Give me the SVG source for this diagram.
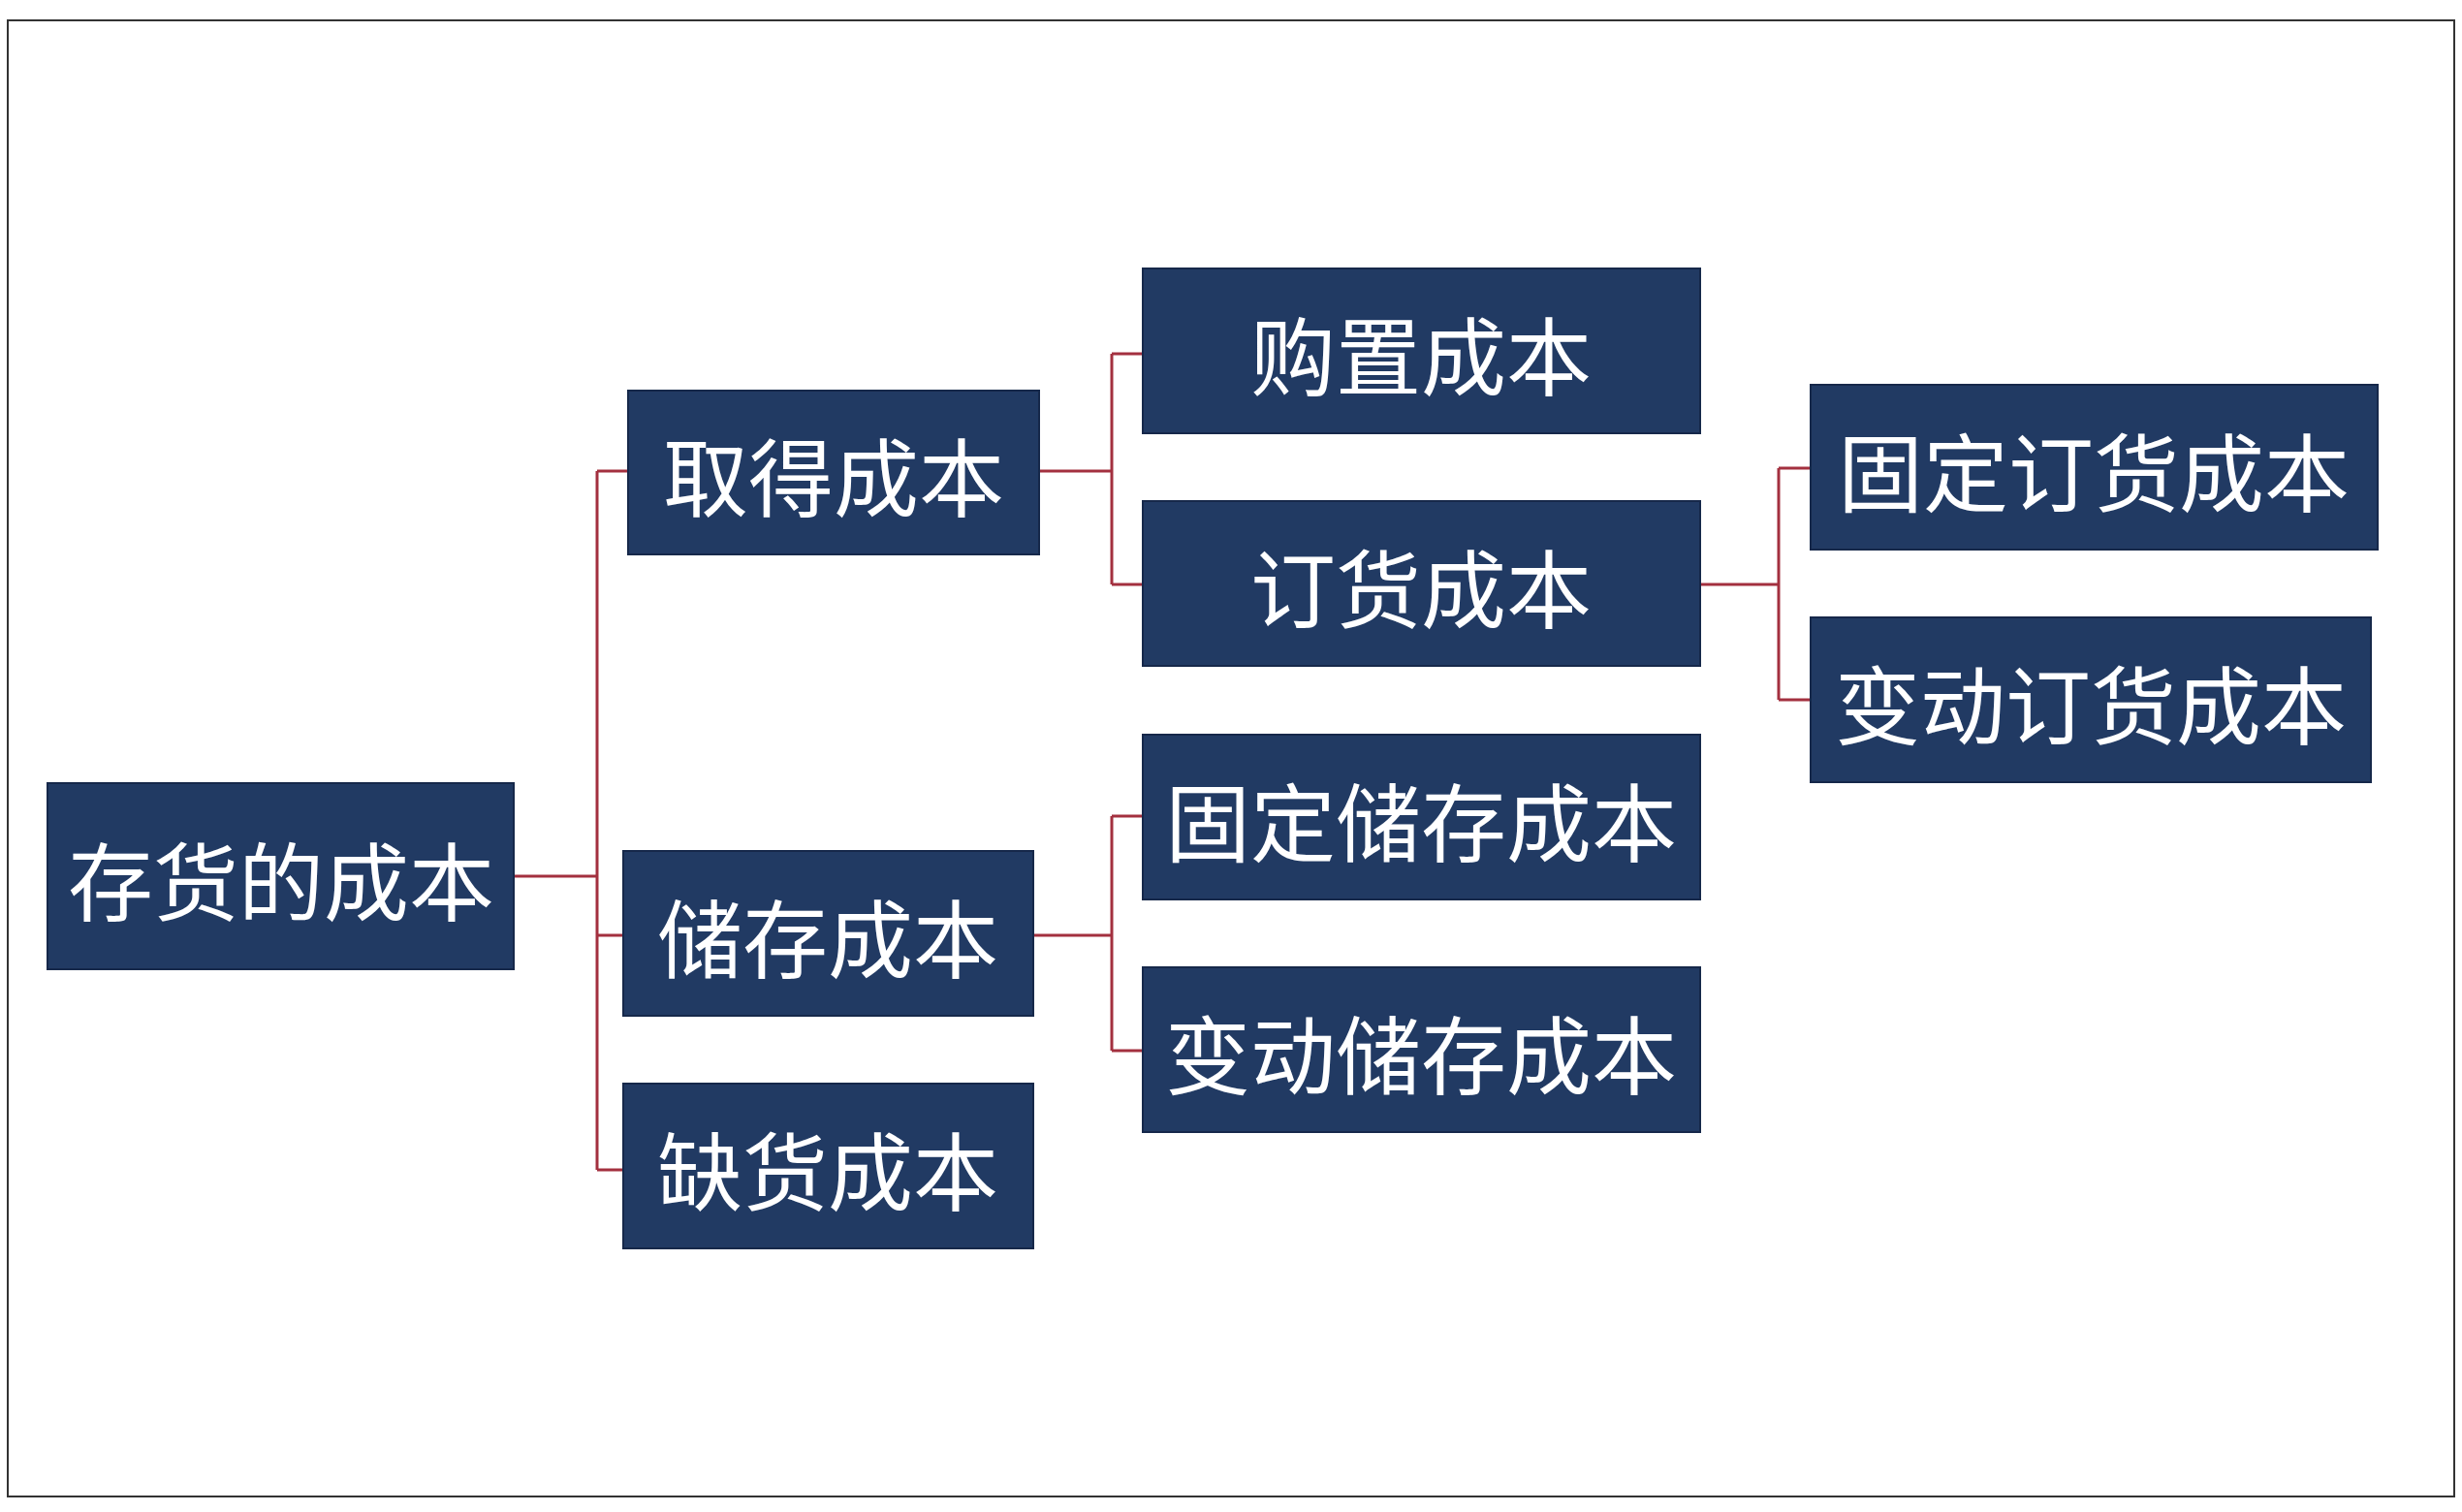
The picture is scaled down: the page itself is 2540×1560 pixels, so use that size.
<svg xmlns="http://www.w3.org/2000/svg" width="2540" height="1560" viewBox="0 0 2540 1560">
<style>
.n rect{fill:#213a63;stroke:#16284a;stroke-width:2}
.n text{fill:#fff;font-family:"Noto Sans CJK SC","Noto Sans",sans-serif;font-size:88px;text-anchor:middle;dominant-baseline:central}
#c path{fill:none;stroke:#a3303f;stroke-width:3}
</style>
<rect x="0" y="0" width="2540" height="1560" fill="#fff"/>
<rect x="8" y="21" width="2524" height="1523" fill="none" stroke="#333" stroke-width="2"/>
<g id="c">
<path d="M530 904H616M616 486V1207M616 486H648M616 965H643M616 1207H643"/>
<path d="M1072 486H1147M1147 365V603M1147 365H1179M1147 603H1179"/>
<path d="M1066 965H1147M1147 842V1084M1147 842H1179M1147 1084H1179"/>
<path d="M1754 603H1835M1835 483V722M1835 483H1868M1835 722H1868"/>
</g>
<g id="root" class="n"><rect x="49" y="808" width="481" height="192"/><text x="290" y="904">存货的成本</text></g>
<g id="qude" class="n"><rect x="648" y="403" width="424" height="169"/><text x="860" y="487">取得成本</text></g>
<g id="chucun" class="n"><rect x="643" y="878" width="423" height="170"/><text x="854" y="963">储存成本</text></g>
<g id="quehuo" class="n"><rect x="643" y="1118" width="423" height="170"/><text x="854" y="1203">缺货成本</text></g>
<g id="gouzhi" class="n"><rect x="1179" y="277" width="575" height="170"/><text x="1466" y="362">购置成本</text></g>
<g id="dinghuo" class="n"><rect x="1179" y="517" width="575" height="170"/><text x="1466" y="602">订货成本</text></g>
<g id="gdcc" class="n"><rect x="1179" y="758" width="575" height="170"/><text x="1466" y="843">固定储存成本</text></g>
<g id="bdcc" class="n"><rect x="1179" y="998" width="575" height="170"/><text x="1466" y="1083">变动储存成本</text></g>
<g id="gddh" class="n"><rect x="1868" y="397" width="585" height="170"/><text x="2160" y="482">固定订货成本</text></g>
<g id="bddh" class="n"><rect x="1868" y="637" width="578" height="170"/><text x="2157" y="722">变动订货成本</text></g>
</svg>
